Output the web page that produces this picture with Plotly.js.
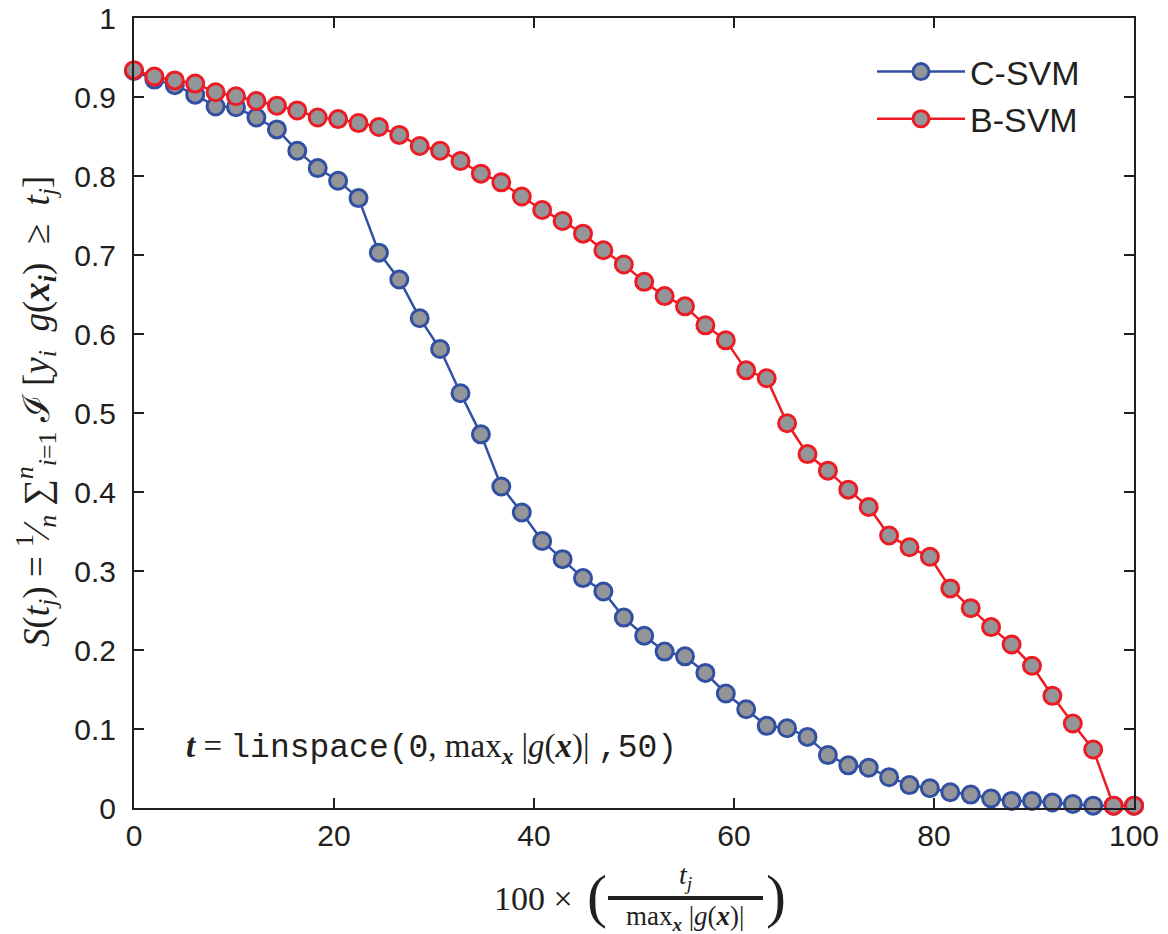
<!DOCTYPE html>
<html>
<head>
<meta charset="utf-8">
<script src="https://cdn.plot.ly/plotly-3.0.1.min.js"></script>
<style>
  html, body { margin: 0; padding: 0; background: #ffffff; }
  #chart { width: 1168px; height: 934px; }
</style>
</head>
<body>
<div id="chart"></div>
<script>
// threshold positions: 100 * t_j / max|g(x)|, t = linspace(0, max, 50)
const tPct = [0, 2.04, 4.08, 6.12, 8.16, 10.20, 12.24, 14.29, 16.33, 18.37,
  20.41, 22.45, 24.49, 26.53, 28.57, 30.61, 32.65, 34.69, 36.73, 38.78,
  40.82, 42.86, 44.90, 46.94, 48.98, 51.02, 53.06, 55.10, 57.14, 59.18,
  61.22, 63.27, 65.31, 67.35, 69.39, 71.43, 73.47, 75.51, 77.55, 79.59,
  81.63, 83.67, 85.71, 87.76, 89.80, 91.84, 93.88, 95.92, 97.96, 100];

const cSVM = [0.933, 0.922, 0.915, 0.903, 0.888, 0.887, 0.874, 0.859, 0.832, 0.810,
  0.794, 0.772, 0.703, 0.669, 0.620, 0.581, 0.525, 0.473, 0.407, 0.374,
  0.338, 0.315, 0.291, 0.274, 0.241, 0.218, 0.198, 0.192, 0.171, 0.145,
  0.125, 0.104, 0.101, 0.090, 0.067, 0.054, 0.051, 0.039, 0.029, 0.025,
  0.020, 0.017, 0.012, 0.009, 0.009, 0.007, 0.005, 0.003, 0.003, 0.003];

const bSVM = [0.934, 0.926, 0.921, 0.917, 0.906, 0.901, 0.895, 0.889, 0.883, 0.874,
  0.872, 0.867, 0.862, 0.852, 0.838, 0.832, 0.819, 0.803, 0.792, 0.774,
  0.757, 0.743, 0.727, 0.706, 0.688, 0.666, 0.648, 0.635, 0.611, 0.592,
  0.554, 0.544, 0.487, 0.448, 0.427, 0.403, 0.381, 0.345, 0.330, 0.318,
  0.278, 0.253, 0.229, 0.207, 0.180, 0.142, 0.107, 0.074, 0.003, 0.003];

const seriesNames = ['C-SVM', 'B-SVM'];
const xTicks = [0, 20, 40, 60, 80, 100];
const yTicks = [0, 0.1, 0.2, 0.3, 0.4, 0.5, 0.6, 0.7, 0.8, 0.9, 1];

// ---- styling ----
const W = 1168, H = 934;
const L = 134, R = 1134, T = 18, B = 808;
const px = x => (x - L) / (R - L);
const py = y => (B - y) / (B - T);
const ink = '#231f20';
const blue = '#3150a3';
const red = '#ed1c24';
const fillGray = '#939598';
const sans = 'Liberation Sans, Arial, Helvetica, sans-serif';
const serif = 'Liberation Serif, Times New Roman, serif';
const monoSpan = s => '<span style="font-family:Liberation Mono, Courier New, monospace">' + s + '</span>';

function trace(name, y, color) {
  return {
    type: 'scatter', mode: 'lines+markers', name: name,
    x: tPct, y: y, cliponaxis: false,
    line: { color: color, width: 2.5 },
    marker: { size: 17, color: fillGray, line: { color: color, width: 3 } }
  };
}

const data = [trace(seriesNames[0], cSVM, blue), trace(seriesNames[1], bSVM, red)];

const axisCommon = {
  showgrid: false, zeroline: false,
  showline: true, linecolor: ink, linewidth: 2,
  mirror: 'ticks', ticks: 'inside', ticklen: 10, tickwidth: 1.5, tickcolor: ink,
  tickfont: { family: sans, size: 30, color: ink }
};

const layout = {
  width: W, height: H,
  margin: { l: L, r: W - R, t: T, b: H - B, pad: 0 },
  paper_bgcolor: '#ffffff', plot_bgcolor: '#ffffff',
  showlegend: true,
  legend: {
    x: px(872), y: py(43), xanchor: 'left', yanchor: 'top',
    bgcolor: 'rgba(0,0,0,0)', borderwidth: 0,
    font: { family: sans, size: 34, color: ink },
    itemwidth: 88, tracegroupgap: 0
  },
  xaxis: Object.assign({}, axisCommon, {
    range: [0, 100], tickvals: xTicks, ticktext: xTicks.map(String),
    ticklabelstandoff: 0
  }),
  yaxis: Object.assign({}, axisCommon, {
    range: [0, 1], tickvals: yTicks, ticktext: yTicks.map(v => String(v)),
    ticklabelstandoff: 10
  }),
  shapes: [
    { type: 'line', xref: 'paper', yref: 'paper', x0: px(608), x1: px(763), y0: py(898), y1: py(898),
      line: { color: ink, width: 4 } }
  ],
  annotations: [
    // y-axis title
    { xref: 'paper', yref: 'paper', x: px(36), y: py(412), xanchor: 'center', yanchor: 'middle',
      textangle: -90, showarrow: false,
      font: { family: serif, size: 37, color: ink },
      text: '<i>S</i>(<i>t<sub>j</sub></i>) = <sup>1</sup>⁄<sub><i>n</i></sub> ∑<sup><i>n</i></sup><sub><i>i</i>=1</sub> ℐ [<i>y<sub>i</sub></i>  <i>g</i>(<b><i>x<sub>i</sub></i></b>)  ≥  <i>t<sub>j</sub></i>]' },
    // x-axis title pieces
    { xref: 'paper', yref: 'paper', x: px(533), y: py(898), xanchor: 'center', yanchor: 'middle',
      showarrow: false, font: { family: serif, size: 34, color: ink }, text: '100 ×' },
    { xref: 'paper', yref: 'paper', x: px(597), y: py(896), xanchor: 'center', yanchor: 'middle',
      showarrow: false, font: { family: serif, size: 60, color: ink }, text: '(' },
    { xref: 'paper', yref: 'paper', x: px(776), y: py(896), xanchor: 'center', yanchor: 'middle',
      showarrow: false, font: { family: serif, size: 60, color: ink }, text: ')' },
    { xref: 'paper', yref: 'paper', x: px(685), y: py(896), xanchor: 'center', yanchor: 'bottom',
      showarrow: false, font: { family: serif, size: 28, color: ink }, text: '<i>t<sub>j</sub></i>' },
    { xref: 'paper', yref: 'paper', x: px(685), y: py(899), xanchor: 'center', yanchor: 'top',
      showarrow: false, font: { family: serif, size: 27, color: ink },
      text: 'max<sub><b><i>x</i></b></sub> |<i>g</i>(<b><i>x</i></b>)|' },
    // in-plot note
    { xref: 'paper', yref: 'paper', x: px(184), y: py(748), xanchor: 'left', yanchor: 'middle',
      showarrow: false, font: { family: serif, size: 33, color: ink },
      text: '<b><i>t</i></b> = ' + monoSpan('linspace(0') + ', max<sub><b><i>x</i></b></sub> |<i>g</i>(<b><i>x</i></b>)| ' + monoSpan(',50)') }
  ]
};

Plotly.newPlot('chart', data, layout, { displayModeBar: false, staticPlot: true });
</script>
</body>
</html>
